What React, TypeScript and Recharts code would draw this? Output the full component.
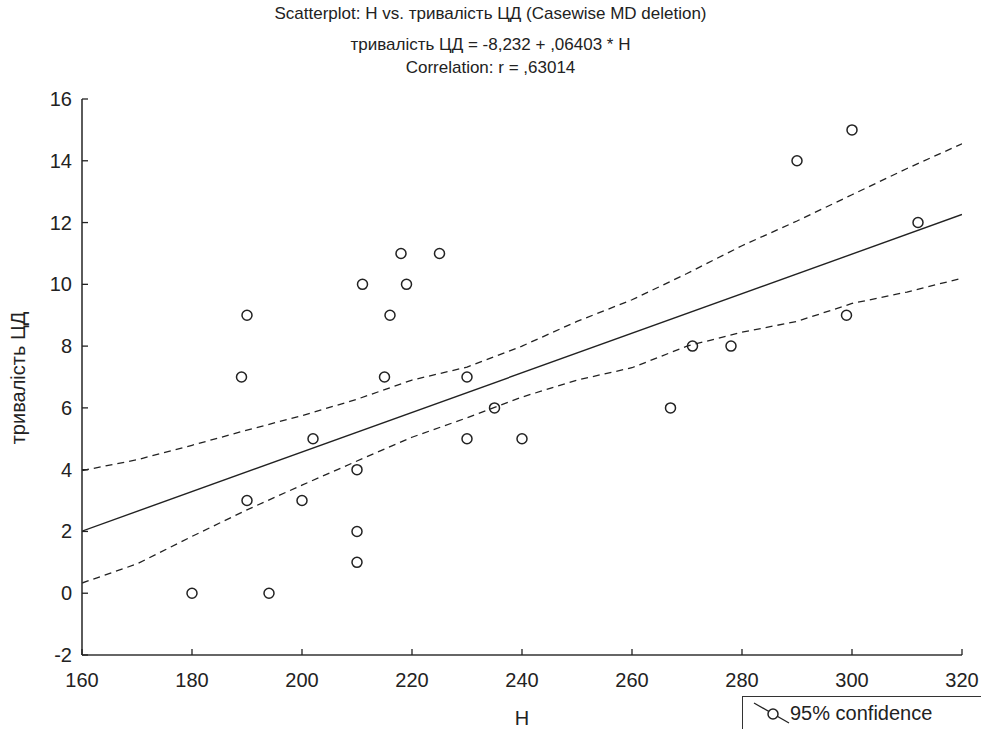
import { ComposedChart, Scatter, Line, XAxis, YAxis } from 'recharts';

// observed points: H vs тривалість ЦД
const hValues = [180, 194, 189, 190, 190, 200, 202, 210, 210, 210, 211, 215, 216, 218, 219, 225, 230, 230, 235, 240, 267, 271, 278, 290, 300, 299, 312];
const durValues = [0, 0, 7, 9, 3, 3, 5, 4, 2, 1, 10, 7, 9, 11, 10, 11, 7, 5, 6, 5, 6, 8, 8, 14, 15, 9, 12];

// fitted line end points
const fitX = [160, 320];
const fitY = [2.01, 12.26];

// 95% confidence band
const bandX = [160, 170, 180, 190, 200, 210, 220, 230, 240, 250, 260, 270, 280, 290, 300, 310, 320];
const bandUpper = [3.97, 4.32, 4.79, 5.28, 5.75, 6.28, 6.9, 7.32, 8.0, 8.8, 9.5, 10.35, 11.25, 12.05, 12.9, 13.75, 14.55];
const bandLower = [0.33, 0.95, 1.84, 2.7, 3.5, 4.28, 5.05, 5.68, 6.35, 6.9, 7.3, 8.0, 8.45, 8.8, 9.38, 9.75, 10.2];

const xTicks = [160, 180, 200, 220, 240, 260, 280, 300, 320];
const yTicks = [-2, 0, 2, 4, 6, 8, 10, 12, 14, 16];

const points = hValues.map((h, i) => ({ x: h, y: durValues[i] }));
const fitData = fitX.map((x, i) => ({ x, y: fitY[i] }));
const upperData = bandX.map((x, i) => ({ x, y: bandUpper[i] }));
const lowerData = bandX.map((x, i) => ({ x, y: bandLower[i] }));

const FONT = '"Liberation Sans", Arial, sans-serif';
const INK = '#222';
const TICK = 6;

const LeftTick = (p: any) => (
  <g>
    <line x1={p.x} y1={p.y} x2={p.x + TICK} y2={p.y} stroke={INK} strokeWidth={1.3} />
    <text x={p.x - 10} y={p.y} textAnchor="end" dominantBaseline="central" fontSize={20} fill={INK} fontFamily={FONT}>
      {p.payload.value}
    </text>
  </g>
);

const RightTick = (p: any) => (
  <line x1={p.x} y1={p.y} x2={p.x - TICK} y2={p.y} stroke={INK} strokeWidth={1.3} />
);

const BottomTick = (p: any) => (
  <g>
    <line x1={p.x} y1={p.y} x2={p.x} y2={p.y - TICK} stroke={INK} strokeWidth={1.3} />
    <text x={p.x} y={p.y + 25} textAnchor="middle" dominantBaseline="central" fontSize={20} fill={INK} fontFamily={FONT}>
      {p.payload.value}
    </text>
  </g>
);

const TopTick = (p: any) => (
  <line x1={p.x} y1={p.y} x2={p.x} y2={p.y + TICK} stroke={INK} strokeWidth={1.3} />
);

const Dot = (p: any) => (
  <circle cx={p.cx} cy={p.cy} r={5} fill="none" stroke={INK} strokeWidth={1.5} />
);

export default function App() {
  const axisLine = { stroke: '#333', strokeWidth: 1.6 };
  const titleLine = (top: number, text: string) => (
    <div style={{ position: 'absolute', left: 0, width: 981, top, textAlign: 'center', fontSize: 17, lineHeight: '20px' }}>{text}</div>
  );
  return (
    <div style={{ position: 'absolute', left: 0, top: 0, width: 981, height: 729, background: '#fff', fontFamily: FONT, color: INK }}>
      {titleLine(4, 'Scatterplot: H vs. тривалість ЦД (Casewise MD deletion)')}
      {titleLine(35, 'тривалість ЦД = -8,232 + ,06403 * H')}
      {titleLine(58, 'Correlation: r = ,63014')}
      <ComposedChart width={981} height={729} margin={{ top: 99, right: 19, bottom: 44, left: 22 }}>
        <XAxis xAxisId="b" type="number" dataKey="x" domain={[160, 320]} ticks={xTicks} allowDataOverflow
          height={30} tickSize={0} tickMargin={0} tick={BottomTick} axisLine={axisLine} interval={0} />
        <XAxis xAxisId="t" orientation="top" type="number" dataKey="x" domain={[160, 320]} ticks={xTicks} allowDataOverflow
          height={0} tickSize={0} tickMargin={0} tick={TopTick} axisLine={axisLine} interval={0} />
        <YAxis yAxisId="l" type="number" dataKey="y" domain={[-2, 16]} ticks={yTicks} allowDataOverflow
          width={60} tickSize={0} tickMargin={0} tick={LeftTick} axisLine={axisLine} interval={0} />
        <YAxis yAxisId="r" orientation="right" type="number" dataKey="y" domain={[-2, 16]} ticks={yTicks} allowDataOverflow
          width={0} tickSize={0} tickMargin={0} tick={RightTick} axisLine={axisLine} interval={0} />
        <Line xAxisId="b" yAxisId="l" data={upperData} dataKey="y" type="linear" stroke={INK} strokeWidth={1.3}
          strokeDasharray="7 5" dot={false} isAnimationActive={false} />
        <Line xAxisId="b" yAxisId="l" data={lowerData} dataKey="y" type="linear" stroke={INK} strokeWidth={1.3}
          strokeDasharray="7 5" dot={false} isAnimationActive={false} />
        <Line xAxisId="b" yAxisId="l" data={fitData} dataKey="y" type="linear" stroke={INK} strokeWidth={1.4}
          dot={false} isAnimationActive={false} />
        <Line xAxisId="t" yAxisId="r" data={fitData} dataKey="y" stroke="none" dot={false} isAnimationActive={false} />
        <Scatter xAxisId="b" yAxisId="l" data={points} dataKey="y" shape={Dot} isAnimationActive={false} />
      </ComposedChart>
      <div style={{ position: 'absolute', left: -2, top: 378, width: 40, height: 0 }}>
        <div style={{ position: 'absolute', left: 20, top: 0, transform: 'translate(-50%, -50%) rotate(-90deg)', whiteSpace: 'nowrap', fontSize: 20 }}>
          тривалість ЦД
        </div>
      </div>
      <div style={{ position: 'absolute', left: 82, width: 880, top: 706, textAlign: 'center', fontSize: 20, lineHeight: '24px' }}>H</div>
      <div style={{ position: 'absolute', left: 742, top: 696, width: 239, height: 33, borderTop: '1.5px solid #333', borderLeft: '1.5px solid #333' }}>
        <svg width={48} height={30} style={{ position: 'absolute', left: 8, top: 2 }}>
          <line x1={3} y1={4} x2={38} y2={24} stroke={INK} strokeWidth={1.3} />
          <circle cx={22} cy={15} r={5} fill="#fff" stroke={INK} strokeWidth={1.5} />
        </svg>
        <div style={{ position: 'absolute', left: 47, top: 3, fontSize: 20, lineHeight: '26px', whiteSpace: 'nowrap' }}>95% confidence</div>
      </div>
    </div>
  );
}
